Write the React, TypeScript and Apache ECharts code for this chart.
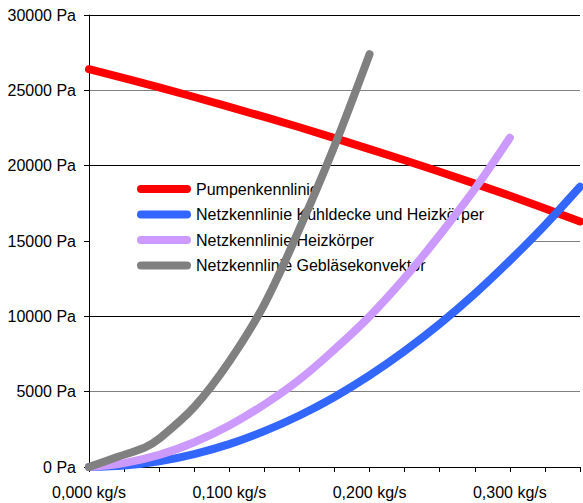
import React, { useEffect, useRef } from "react";
import * as echarts from "echarts";

const seriesNames = [
  "Pumpenkennlinie",
  "Netzkennlinie Kühldecke und Heizkörper",
  "Netzkennlinie Heizkörper",
  "Netzkennlinie Gebläsekonvektor",
];
const seriesColors = ["#FF0000", "#3366FF", "#CC99FF", "#808080"];

// mass flow (kg/s) and pressure (Pa)
const pumpQ = [0, 0.05, 0.1, 0.15, 0.2, 0.25, 0.3, 0.35];
const pumpP = [26400, 25200, 23900, 22550, 21100, 19600, 18000, 16300];

const coolQ = [0, 0.025, 0.05, 0.075, 0.1, 0.125, 0.15, 0.175, 0.2, 0.225, 0.25, 0.275, 0.3, 0.325, 0.35];
const coolP = [0, 100, 380, 860, 1520, 2380, 3420, 4650, 6080, 7700, 9500, 11500, 13700, 16050, 18600];

const heatQ = [0, 0.025, 0.05, 0.075, 0.1, 0.125, 0.15, 0.175, 0.2, 0.225, 0.25, 0.275, 0.3];
const heatP = [0, 260, 800, 1640, 2750, 4150, 5800, 7800, 10000, 12550, 15400, 18450, 21850];

const fanQ = [0, 0.02, 0.04, 0.05, 0.075, 0.1, 0.125, 0.15, 0.175, 0.2];
const fanP = [0, 660, 1300, 1880, 3980, 7000, 10800, 15800, 21300, 27400];

const yTicks = { min: 0, max: 30000, step: 5000 };
const xTicks = { min: 0, max: 0.35, step: 0.025, labelStep: 0.1 };

const FONT = "'Liberation Sans', Arial, sans-serif";

function pairs(q: number[], p: number[]) {
  return q.map((v, i) => [v, p[i]]);
}

export default function App() {
  const ref = useRef<HTMLDivElement>(null);

  useEffect(() => {
    if (!ref.current) return;
    const chart = echarts.init(ref.current, undefined, { renderer: "svg" });
    const data = [pairs(pumpQ, pumpP), pairs(coolQ, coolP), pairs(heatQ, heatP), pairs(fanQ, fanP)];
    const smooth = [0.3, 0.3, 0.4, 0.35];
    chart.setOption({
      animation: false,
      backgroundColor: "#fff",
      textStyle: { fontFamily: FONT },
      grid: { left: 89, top: 15, width: 496, height: 452 },
      legend: {
        orient: "vertical",
        left: 90,
        top: 172,
        padding: [9, 40, 26, 47],
        backgroundColor: "#fff",
        itemWidth: 54,
        itemHeight: 8,
        itemGap: 9.5,
        z: 2,
        selectedMode: false,
        icon: "path://M4,0 L50,0 A4,4 0 0 1 50,8 L4,8 A4,4 0 0 1 4,0 Z",
        textStyle: { fontSize: 16, color: "#000", fontFamily: FONT, lineHeight: 16 },
        data: seriesNames,
      },
      xAxis: {
        type: "value",
        min: xTicks.min,
        max: xTicks.max,
        interval: xTicks.step,
        z: 3,
        axisLine: { show: true, lineStyle: { color: "#000", width: 1 } },
        axisTick: { show: true, length: 5, lineStyle: { color: "#000" } },
        splitLine: { show: false },
        axisLabel: {
          show: true,
          margin: 17,
          fontSize: 16,
          color: "#000",
          fontFamily: FONT,
          formatter: (v: number) => {
            const k = v / xTicks.labelStep;
            if (Math.abs(k - Math.round(k)) > 1e-6) return "";
            return v.toFixed(3).replace(".", ",") + " kg/s";
          },
        },
      },
      yAxis: {
        type: "value",
        min: yTicks.min,
        max: yTicks.max,
        interval: yTicks.step,
        axisLine: { show: true, lineStyle: { color: "#000", width: 1 } },
        axisTick: { show: true, length: 5, lineStyle: { color: "#000" } },
        splitLine: { show: true, lineStyle: { color: ["#000", "#808080"], width: 1 } },
        axisLabel: {
          margin: 13,
          fontSize: 16,
          color: "#000",
          fontFamily: FONT,
          formatter: (v: number) => `${v} Pa`,
        },
      },
      series: seriesNames.map((name, i) => ({
        name,
        type: "line",
        z: 5,
        data: data[i],
        smooth: smooth[i],
        showSymbol: false,
        symbol: "none",
        clip: true,
        color: seriesColors[i],
        lineStyle: { width: 8, color: seriesColors[i], cap: "round", join: "round" },
      })),
    });
    return () => chart.dispose();
  }, []);

  return (
    <div
      ref={ref}
      style={{ position: "fixed", left: 0, top: 0, width: 583, height: 503 }}
    />
  );
}
